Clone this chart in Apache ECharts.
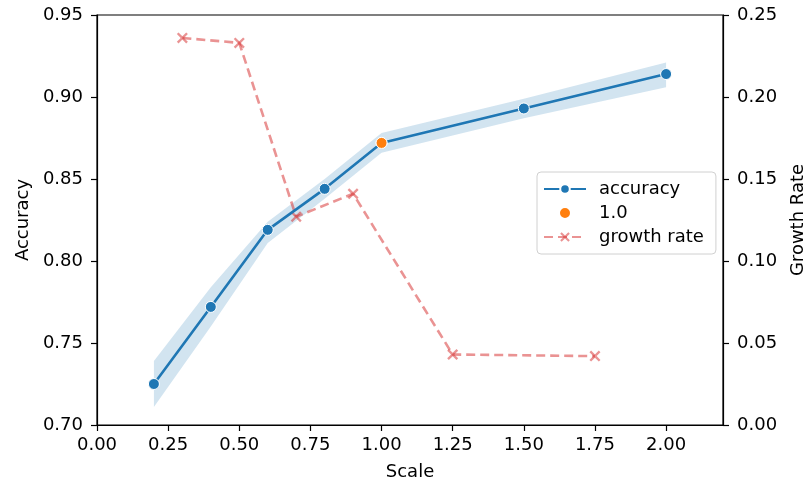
<!DOCTYPE html>
<html>
<head>
<meta charset="utf-8">
<script src="https://cdn.jsdelivr.net/npm/echarts@6/dist/echarts.min.js"></script>
<style>
  html, body { margin: 0; padding: 0; background: #fff; }
  #main { width: 807px; height: 482px; }
</style>
</head>
<body>
<div id="main"></div>
<script>
var scales = [0.2, 0.4, 0.6, 0.8, 1.0, 1.5, 2.0];
var accuracy = [0.725, 0.772, 0.819, 0.844, 0.872, 0.893, 0.914];
var accLow = [0.711, 0.760, 0.811, 0.838, 0.866, 0.887, 0.906];
var accHigh = [0.739, 0.784, 0.824, 0.850, 0.878, 0.899, 0.921];
var highlightX = [1.0];
var highlightY = [0.872];
var growthX = [0.3, 0.5, 0.7, 0.9, 1.25, 1.75];
var growthRate = [0.236, 0.233, 0.127, 0.141, 0.043, 0.042];
var xTicks = [0, 0.25, 0.5, 0.75, 1.0, 1.25, 1.5, 1.75, 2.0];

var FONT = 'DejaVu Sans';
var FS = 18;
var xMark = 'path://M0,1.5L1.5,0L5,3.5L8.5,0L10,1.5L6.5,5L10,8.5L8.5,10L5,6.5L1.5,10L0,8.5L3.5,5Z';

var myChart = echarts.init(document.getElementById('main'));

function pairs(xs, ys) {
	var out = [];
	for (var i = 0; i < xs.length; i++) out.push([xs[i], ys[i]]);
	return out;
}

var bandData = [];
for (var i = 0; i < scales.length; i++) {
	bandData.push([scales[i], accLow[i], accHigh[i]]);
}

option = {
	animation: false,
	textStyle: { fontFamily: FONT },
	grid: {
		left: 97, right: 84, top: 15, bottom: 57,
		outerBoundsMode: 'none',
		containLabel: false,
		show: true, borderColor: '#000', borderWidth: 1.2
	},
	legend: {
		orient: 'vertical',
		left: 537, top: 172,
		data: ['accuracy', '1.0', 'growth rate'],
		itemWidth: 42, itemHeight: 12, itemGap: 6,
		padding: [8, 12, 8, 6],
		borderColor: '#d0d0d0', borderWidth: 1, borderRadius: 4,
		backgroundColor: '#fff',
		textStyle: { fontFamily: FONT, fontSize: FS, color: '#000', padding: [0, 0, 0, 8] }
	},
	xAxis: {
		type: 'value',
		min: 0, max: 2.2,
		name: 'Scale', nameLocation: 'middle', nameGap: 38,
		nameTextStyle: { fontFamily: FONT, fontSize: FS, color: '#000' },
		splitLine: { show: false },
		axisLine: { lineStyle: { color: '#000', width: 1.2 } },
		axisTick: { customValues: xTicks, length: 6, lineStyle: { color: '#000', width: 1.2 } },
		axisLabel: {
			customValues: xTicks, margin: 11,
			fontFamily: FONT, fontSize: FS, color: '#000',
			formatter: function (v) { return v.toFixed(2); }
		}
	},
	yAxis: [{
		type: 'value',
		min: 0.70, max: 0.95, interval: 0.05,
		name: 'Accuracy', nameLocation: 'middle', nameGap: 64, nameRotate: 90,
		nameTextStyle: { fontFamily: FONT, fontSize: FS, color: '#000' },
		splitLine: { show: false },
		axisLine: { show: true, lineStyle: { color: '#000', width: 1.2 } },
		axisTick: { show: true, length: 6, lineStyle: { color: '#000', width: 1.2 } },
		axisLabel: {
			margin: 14, fontFamily: FONT, fontSize: FS, color: '#000',
			formatter: function (v) { return v.toFixed(2); }
		}
	}, {
		type: 'value',
		position: 'right',
		min: 0, max: 0.25, interval: 0.05,
		name: 'Growth Rate', nameLocation: 'middle', nameGap: 66, nameRotate: 90,
		nameTextStyle: { fontFamily: FONT, fontSize: FS, color: '#000' },
		splitLine: { show: false },
		axisLine: { show: true, lineStyle: { color: '#000', width: 1.2 } },
		axisTick: { show: true, length: 6, lineStyle: { color: '#000', width: 1.2 } },
		axisLabel: {
			margin: 14, fontFamily: FONT, fontSize: FS, color: '#000',
			formatter: function (v) { return v.toFixed(2); }
		}
	}],
	series: [{
		name: 'band',
		type: 'custom',
		yAxisIndex: 0,
		silent: true,
		z: 1,
		data: bandData,
		renderItem: function (params, api) {
			if (params.dataIndex !== 0) return;
			var pts = [];
			for (var k = 0; k < bandData.length; k++) {
				pts.push(api.coord([bandData[k][0], bandData[k][2]]));
			}
			for (var k = bandData.length - 1; k >= 0; k--) {
				pts.push(api.coord([bandData[k][0], bandData[k][1]]));
			}
			return {
				type: 'polygon',
				shape: { points: pts },
				style: { fill: 'rgba(31,119,180,0.2)', stroke: null }
			};
		}
	}, {
		name: 'accuracy',
		type: 'line',
		yAxisIndex: 0,
		z: 3,
		data: pairs(scales, accuracy),
		symbol: 'circle',
		symbolSize: 11,
		showAllSymbol: true,
		lineStyle: { color: '#1f77b4', width: 2.6 },
		itemStyle: { color: '#1f77b4', borderColor: '#fff', borderWidth: 1 }
	}, {
		name: '1.0',
		type: 'scatter',
		yAxisIndex: 0,
		z: 4,
		data: pairs(highlightX, highlightY),
		symbol: 'circle',
		symbolSize: 11,
		itemStyle: { color: '#ff7f0e', borderColor: '#fff', borderWidth: 1, opacity: 1 }
	}, {
		name: 'growth rate',
		type: 'line',
		yAxisIndex: 1,
		z: 2,
		data: pairs(growthX, growthRate),
		symbol: xMark,
		symbolSize: 11,
		showAllSymbol: true,
		lineStyle: { color: 'rgba(214,39,40,0.5)', width: 2.6, type: [9, 5] },
		itemStyle: { color: 'rgba(214,39,40,0.5)' }
	}]
};
myChart.setOption(option);
</script>
</body>
</html>
